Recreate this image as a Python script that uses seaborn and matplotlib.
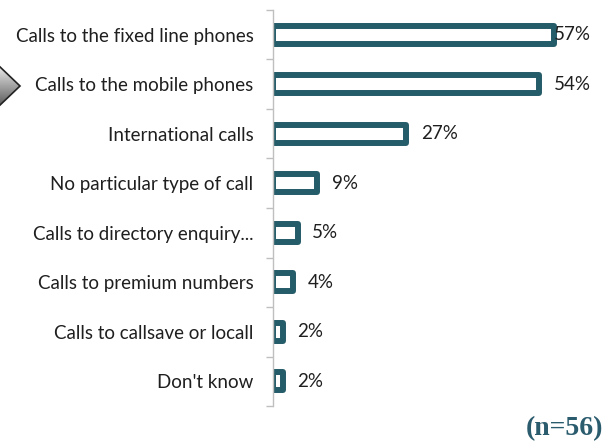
import matplotlib
matplotlib.use("Agg")
import numpy as np
import pandas as pd
import matplotlib.pyplot as plt
import seaborn as sns
from matplotlib.patches import Polygon

# 数据
categories = [
    "Calls to the fixed line phones",
    "Calls to the mobile phones",
    "International calls",
    "No particular type of call",
    "Calls to directory enquiry...",
    "Calls to premium numbers",
    "Calls to callsave or locall",
    "Don't know",
]
values = [57, 54, 27, 9, 5, 4, 2, 2]
sample_note = "(n=56)"

df = pd.DataFrame({"category": categories, "pct": values})

sns.set_theme(style="white")
plt.rcParams["font.family"] = ["Lato", "DejaVu Sans"]

teal = "#255C69"
text_col = "#1f1f1f"
grid_col = "#BFBFBF"

fig = plt.figure(figsize=(6.06, 4.42), dpi=100)
ax = fig.add_axes([273 / 606, 1 - 406 / 442, 1 - 273 / 606, 396 / 442])

sns.barplot(data=df, x="pct", y="category", orient="h", color="white",
            edgecolor=teal, linewidth=4.3, width=0.36, ax=ax)
for p in ax.patches:
    p.set_joinstyle("round")

ax.set_xlim(0, 67.5)
ax.set_ylim(len(categories) - 0.5, -0.5)

# 数值标签
for i, v in enumerate(values):
    ax.annotate(f"{v}%", xy=(min(v, 54), i), xytext=(10.5, 0),
                textcoords="offset points", va="center", ha="left",
                fontsize=13.5, color=text_col)

# 轴样式
for s in ["top", "right", "bottom"]:
    ax.spines[s].set_visible(False)
ax.spines["left"].set_color(grid_col)
ax.spines["left"].set_linewidth(1)
ax.set_xticks([])
ax.set_xlabel("")
ax.set_ylabel("")
ax.tick_params(axis="y", length=0, pad=14, labelsize=13.5, labelcolor=text_col)
ax.set_yticks(np.arange(-0.5, len(categories)), minor=True)
ax.tick_params(axis="y", which="minor", length=5, color=grid_col, width=1, left=True)

# 左边的箭头
arr = fig.add_axes([0, 1 - 110 / 442, 24 / 606, 48 / 442])
arr.set_xlim(0, 24)
arr.set_ylim(48, 0)
arr.axis("off")
grad = np.linspace(0.97, 0.3, 48)[:, None] * np.ones((48, 24))
im = arr.imshow(grad, cmap="gray", vmin=0, vmax=1, extent=(0, 24, 48, 0), aspect="auto")
poly = Polygon([(-2, 3), (20, 24), (-2, 45)], closed=True, facecolor="none",
               edgecolor="#222222", linewidth=1.2)
arr.add_patch(poly)
im.set_clip_path(poly)

fig.text(603 / 606, 1 - 435 / 442, sample_note, ha="right", va="baseline",
         fontsize=20, fontweight="bold", color="#2B5C6E",
         family=["Liberation Serif", "DejaVu Serif"])

fig.savefig("out.png", dpi=100)
